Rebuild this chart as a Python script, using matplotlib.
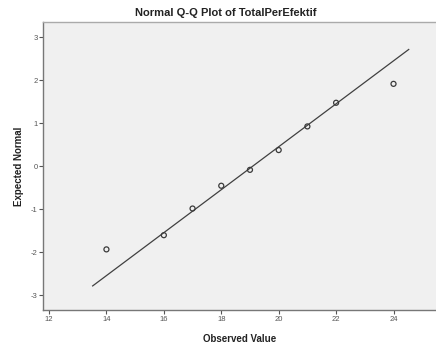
import matplotlib
matplotlib.use('Agg')
import matplotlib.pyplot as plt

observed = [14, 16, 17, 18, 19, 20, 21, 22, 24]
expected = [-1.93, -1.60, -0.98, -0.45, -0.08, 0.38, 0.93, 1.48, 1.92]
line_x = [13.52, 24.53]
line_y = [-2.78, 2.72]

plt.rcParams['font.family'] = ['Liberation Sans', 'DejaVu Sans']
plt.rcParams['axes.unicode_minus'] = False

fig = plt.figure(figsize=(4.36, 3.5), dpi=100)
ax = fig.add_axes([0.0986, 0.1143, 0.9014, 0.823])
ax.set_facecolor('#f0f0f0')

ax.plot(line_x, line_y, color='#404040', lw=0.9)
ax.scatter(observed, expected, s=13, facecolors='none', edgecolors='#3a3a3a', linewidths=0.9, zorder=3)

ax.set_xlim(11.79, 25.48)
ax.set_ylim(-3.34, 3.36)
ax.set_xticks([12, 14, 16, 18, 20, 22, 24])
ax.set_yticks([-3, -2, -1, 0, 1, 2, 3])
ax.tick_params(labelsize=5.5, colors='#555555', length=3, width=0.8, pad=1)

for s in ['left', 'bottom']:
    ax.spines[s].set_color('#777777')
    ax.spines[s].set_linewidth(1.0)
ax.spines['top'].set_color('#aaaaaa')
ax.spines['top'].set_linewidth(1.0)
ax.spines['right'].set_visible(False)

fig.text(226 / 436, 1 - 13 / 350, 'Normal Q-Q Plot of TotalPerEfektif', fontsize=8,
         fontweight='bold', color='#222222', ha='center', va='center')
ax.set_xlabel('Observed Value', fontsize=7, fontweight='bold', color='#222222', labelpad=8)
ax.set_ylabel('Expected Normal', fontsize=7, fontweight='bold', color='#222222', labelpad=5)

fig.savefig('out.png', dpi=100)
